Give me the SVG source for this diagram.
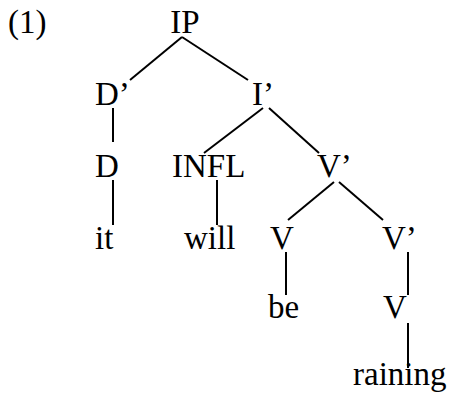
<svg xmlns="http://www.w3.org/2000/svg" width="452" height="399" viewBox="0 0 452 399">
  <style>
    text { font-family: "Liberation Serif", "Times New Roman", serif; font-size: 33px; fill: #000; }
    .edge { stroke: #000; stroke-width: 2; fill: none; stroke-linecap: butt; }
  </style>
  <rect width="452" height="399" fill="#fff"/>
  <text x="8" y="33">(1)</text>
  <g id="connectors">
    <line class="edge" x1="182" y1="37" x2="130" y2="80"/>
    <line class="edge" x1="182" y1="37" x2="248" y2="80"/>
    <line class="edge" x1="113" y1="108" x2="113" y2="142"/>
    <line class="edge" x1="263" y1="108" x2="204" y2="153"/>
    <line class="edge" x1="269" y1="108" x2="319" y2="153"/>
    <line class="edge" x1="113" y1="180" x2="113" y2="225"/>
    <line class="edge" x1="217" y1="180" x2="217" y2="225"/>
    <line class="edge" x1="334" y1="182" x2="288" y2="220"/>
    <line class="edge" x1="339" y1="182" x2="383" y2="220"/>
    <line class="edge" x1="286" y1="252" x2="286" y2="295"/>
    <line class="edge" x1="408" y1="252" x2="408" y2="295"/>
    <line class="edge" x1="408" y1="323" x2="408" y2="368"/>
  </g>
  <g id="IP"><text x="185" y="33" text-anchor="middle">IP</text></g>
  <g id="Dbar"><text x="95" y="105">D’</text></g>
  <g id="Ibar"><text x="252" y="105">I’</text></g>
  <g id="D"><text x="95" y="177">D</text></g>
  <g id="INFL"><text x="172" y="177">INFL</text></g>
  <g id="Vbar1"><text x="317" y="177">V’</text></g>
  <g id="it"><text x="95" y="249">it</text></g>
  <g id="will"><text x="184" y="249">will</text></g>
  <g id="V1"><text x="270" y="249">V</text></g>
  <g id="Vbar2"><text x="382" y="249">V’</text></g>
  <g id="be"><text x="268" y="318">be</text></g>
  <g id="V2"><text x="383" y="318">V</text></g>
  <g id="raining"><text x="353" y="385">raining</text></g>
</svg>
